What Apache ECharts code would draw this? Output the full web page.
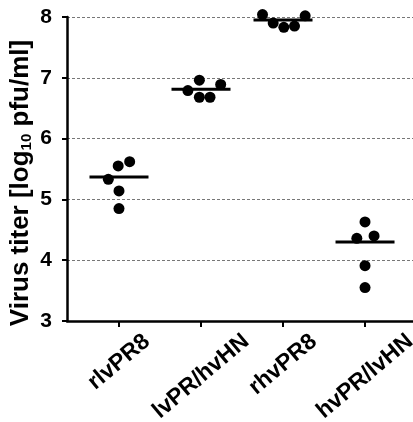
<!DOCTYPE html>
<html>
<head>
<meta charset="utf-8">
<script src="https://cdn.jsdelivr.net/npm/echarts@6/dist/echarts.min.js"></script>
<style>
  html, body { margin: 0; padding: 0; background: #fff; }
  #chart { width: 413px; height: 422px; }
</style>
</head>
<body>
<div id="chart"></div>
<script>
// virus groups on the x axis
const categories = ['rlvPR8', 'lvPR/hvHN', 'rhvPR8', 'hvPR/lvHN']
// titers per animal (log10 pfu/ml)
const rlvPR8 = [5.62, 5.55, 5.33, 5.14, 4.85]
const lvPRhvHN = [6.96, 6.79, 6.89, 6.68, 6.68]
const rhvPR8 = [8.04, 7.90, 7.83, 7.85, 8.02]
const hvPRlvHN = [4.63, 4.36, 4.40, 3.91, 3.55]
// horizontal spread of the dots inside each group
const rlvPR8Jitter = [0.13, -0.01, -0.13, 0, 0]
const lvPRhvHNJitter = [-0.02, -0.16, 0.24, -0.02, 0.11]
const rhvPR8Jitter = [-0.25, -0.12, 0.01, 0.14, 0.27]
const hvPRlvHNJitter = [0, -0.1, 0.11, 0, 0]
// group line values
const groupLines = [5.37, 6.81, 7.95, 4.30]

const groups = [rlvPR8, lvPRhvHN, rhvPR8, hvPRlvHN]
const jitters = [rlvPR8Jitter, lvPRhvHNJitter, rhvPR8Jitter, hvPRlvHNJitter]

const FONT = '"Liberation Sans", Arial, sans-serif'
const LABEL_SIZE = 23
const LABEL_ROT = 40

// rotated x labels: keep their tops level, centered under the tick
const ctx = document.createElement('canvas').getContext('2d')
ctx.font = 'bold ' + LABEL_SIZE + 'px ' + FONT
const widths = categories.map(c => ctx.measureText(c).width)
const minW = Math.min(...widths)
const sin = Math.sin(LABEL_ROT * Math.PI / 180)
const cos = Math.cos(LABEL_ROT * Math.PI / 180)
const rich = {}
categories.forEach((c, i) => {
  const d = (widths[i] - minW) * sin / 2
  rich['c' + i] = {
    fontFamily: FONT,
    fontWeight: 'bold',
    fontSize: LABEL_SIZE,
    color: '#000',
    padding: [2 * d * cos, 2 * d * sin, 0, 0]
  }
})

const points = []
groups.forEach((vals, i) => {
  vals.forEach((v, j) => points.push([i + 1 + jitters[i][j], v]))
})

const chart = echarts.init(document.getElementById('chart'))
chart.setOption({
  animation: false,
  grid: { left: 67, right: 0, top: 17, bottom: 101, outerBoundsMode: 'none' },
  xAxis: {
    type: 'value',
    min: 0.366,
    max: 4.585,
    splitLine: { show: false },
    axisLine: { show: true, lineStyle: { color: '#000', width: 2.5 } },
    axisTick: {
      show: true,
      customValues: [1, 2, 3, 4],
      length: 6,
      lineStyle: { color: '#000', width: 2 }
    },
    axisLabel: {
      customValues: [1, 2, 3, 4],
      rotate: LABEL_ROT,
      align: 'center',
      verticalAlign: 'middle',
      margin: 41,
      formatter: v => {
        const i = Math.round(v) - 1
        return '{c' + i + '|' + categories[i] + '}'
      },
      rich: rich
    }
  },
  yAxis: {
    type: 'value',
    min: 3,
    max: 8,
    interval: 1,
    name: '{a|Virus titer [log}{b|10}{a| pfu/ml]}',
    nameLocation: 'middle',
    nameRotate: 90,
    nameGap: 33,
    nameMoveOverlap: false,
    nameTextStyle: {
      padding: [0, 28, 0, 0],
      rich: {
        a: { fontFamily: FONT, fontWeight: 'bold', fontSize: 26, color: '#000' },
        b: { fontFamily: FONT, fontWeight: 'bold', fontSize: 15, color: '#000', verticalAlign: 'bottom', padding: [9, 0, 0, 0] }
      }
    },
    axisLine: { show: true, lineStyle: { color: '#000', width: 2.5 } },
    axisTick: { show: true, length: 5, lineStyle: { color: '#000', width: 2 } },
    axisLabel: {
      fontFamily: FONT,
      fontWeight: 'bold',
      fontSize: 21,
      color: '#000',
      margin: 15
    },
    splitLine: { show: true, lineStyle: { color: '#777', width: 1, type: [3, 2] } }
  },
  series: [
    {
      type: 'scatter',
      data: groupLines.map((v, i) => [i + 1, v]),
      symbol: 'rect',
      symbolSize: [59, 3],
      itemStyle: { color: '#000', opacity: 1 },
      clip: false,
      z: 3
    },
    {
      type: 'scatter',
      data: points,
      symbol: 'circle',
      symbolSize: 11,
      itemStyle: { color: '#000', opacity: 1 },
      clip: false,
      z: 4
    }
  ]
})
</script>
</body>
</html>
